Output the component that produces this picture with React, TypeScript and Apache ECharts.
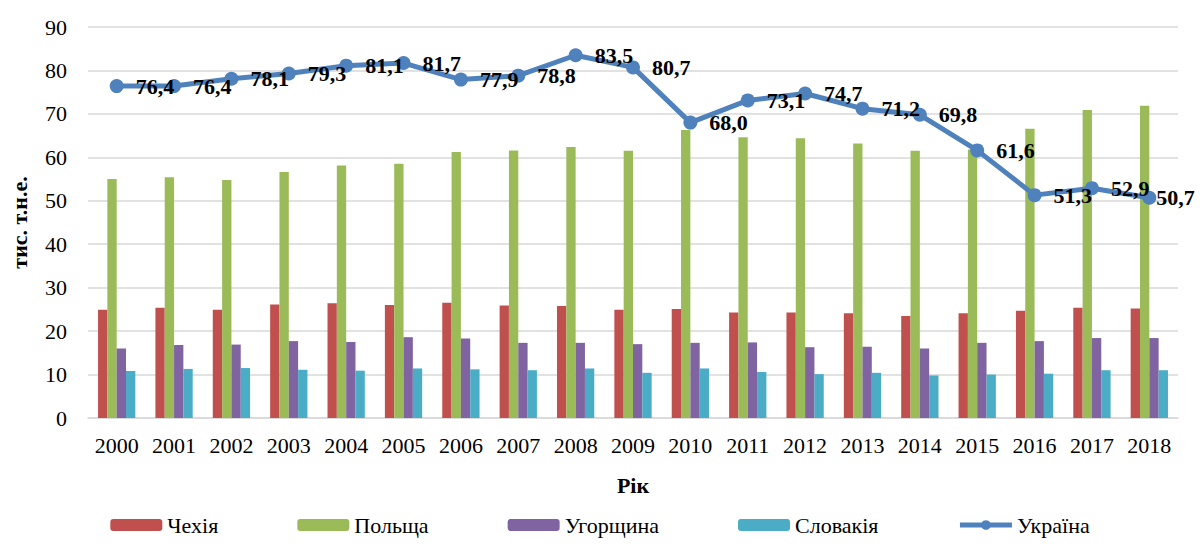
import React, { useEffect, useRef } from "react";
import * as echarts from "echarts";

const years = ["2000","2001","2002","2003","2004","2005","2006","2007","2008","2009","2010","2011","2012","2013","2014","2015","2016","2017","2018"];
const czech = [24.9,25.4,24.9,26.1,26.4,26.0,26.5,25.9,25.8,24.9,25.1,24.3,24.3,24.1,23.5,24.1,24.7,25.4,25.2];
const poland = [55.0,55.4,54.8,56.6,58.1,58.5,61.2,61.6,62.4,61.5,66.3,64.6,64.4,63.2,61.5,61.8,66.6,70.9,71.9];
const hungary = [16.0,16.8,16.9,17.7,17.5,18.6,18.3,17.3,17.3,17.0,17.3,17.4,16.3,16.4,16.0,17.3,17.7,18.4,18.4];
const slovakia = [10.8,11.3,11.5,11.1,10.9,11.4,11.2,11.0,11.4,10.4,11.4,10.6,10.1,10.4,9.8,10.0,10.2,11.0,11.0];
const ukraine = [76.4,76.4,78.1,79.3,81.1,81.7,77.9,78.8,83.5,80.7,68.0,73.1,74.7,71.2,69.8,61.6,51.3,52.9,50.7];
const yTicks = [0, 10, 20, 30, 40, 50, 60, 70, 80, 90];

const FONT = "Liberation Serif";

export default function App() {
  const ref = useRef<HTMLDivElement>(null);
  useEffect(() => {
    if (!ref.current) return;
    const chart = echarts.init(ref.current, null, { renderer: "svg" });
    const barSeries = (name: string, data: number[], color: string) => ({
      name,
      type: "bar",
      data,
      barGap: "0%",
      barCategoryGap: "35%",
      itemStyle: { color },
    });
    const last = ukraine.length - 1;
    const ukraineData = ukraine.map((v, i) =>
      i === last ? { value: v, label: { distance: 0 } } : v
    );
    chart.setOption({
      animation: false,
      textStyle: { fontFamily: FONT },
      grid: { left: 83, right: 22, top: 27, bottom: 127, containLabel: false },
      legend: {
        bottom: 4,
        left: "center",
        itemWidth: 52,
        itemHeight: 12,
        itemGap: 79,
        textStyle: { fontFamily: FONT, fontSize: 22, color: "#000" },
        data: [
          "Чехія",
          "Польща",
          "Угорщина",
          "Словакія",
          { name: "Україна", itemStyle: { color: "#4F81BD" }, lineStyle: { width: 5, color: "#4F81BD" } },
        ],
      },
      xAxis: {
        type: "category",
        data: years,
        name: "Рік",
        nameLocation: "middle",
        nameGap: 56,
        nameTextStyle: { fontFamily: FONT, fontSize: 22, fontWeight: "bold", color: "#000" },
        axisLine: { lineStyle: { color: "#d9d9d9", width: 1.5 } },
        axisTick: { show: false },
        axisLabel: { fontFamily: FONT, fontSize: 22, color: "#000", margin: 16, interval: 0 },
      },
      yAxis: {
        type: "value",
        min: yTicks[0],
        max: yTicks[yTicks.length - 1],
        interval: 10,
        name: "тис. т.н.е.",
        nameLocation: "middle",
        nameGap: 58,
        nameRotate: 90,
        nameTextStyle: { fontFamily: FONT, fontSize: 22, fontWeight: "bold", color: "#000" },
        axisLine: { show: false },
        axisTick: { show: false },
        axisLabel: { fontFamily: FONT, fontSize: 22, color: "#000", margin: 21 },
        splitLine: { lineStyle: { color: "#d9d9d9", width: 1.5 } },
      },
      series: [
        barSeries("Чехія", czech, "#C0504D"),
        barSeries("Польща", poland, "#9BBB59"),
        barSeries("Угорщина", hungary, "#8064A2"),
        barSeries("Словакія", slovakia, "#4BACC6"),
        {
          name: "Україна",
          type: "line",
          data: ukraineData,
          z: 5,
          symbol: "circle",
          symbolSize: 14,
          lineStyle: { color: "#4F81BD", width: 5 },
          itemStyle: { color: "#4F81BD" },
          label: {
            show: true,
            position: "right",
            distance: 12,
            fontFamily: FONT,
            fontSize: 22,
            fontWeight: "bold",
            color: "#000",
            formatter: (p: any) => p.value.toFixed(1).replace(".", ","),
          },
        },
      ],
    });
    return () => chart.dispose();
  }, []);
  return (
    <div
      ref={ref}
      style={{ position: "fixed", left: 0, top: 0, width: 1200, height: 545, background: "#fff" }}
    />
  );
}
